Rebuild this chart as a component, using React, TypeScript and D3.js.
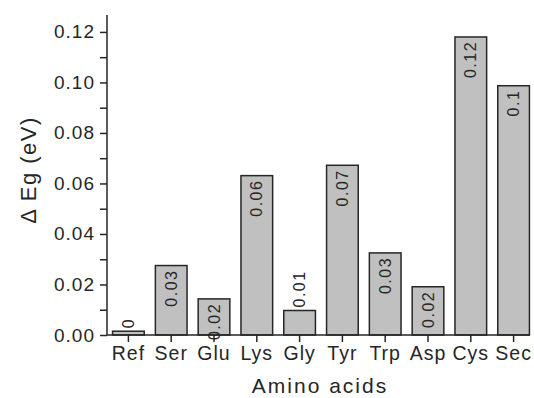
import { useEffect, useRef } from 'react';
import * as d3 from 'd3';

const aminoAcids = ['Ref', 'Ser', 'Glu', 'Lys', 'Gly', 'Tyr', 'Trp', 'Asp', 'Cys', 'Sec'];
const deltaEg = [0.0015, 0.0275, 0.0143, 0.0631, 0.0097, 0.0672, 0.0325, 0.0191, 0.118, 0.0987];
const barLabels = ['0', '0.03', '0.02', '0.06', '0.01', '0.07', '0.03', '0.02', '0.12', '0.1'];
const yTicks = [0, 0.02, 0.04, 0.06, 0.08, 0.1, 0.12];

export default function App() {
    const svgRef = useRef<SVGSVGElement>(null);

    useEffect(() => {
        const svg = d3.select(svgRef.current);
        svg.selectAll('*').remove();

        const W = 534;
        const H = 398;
        const left = 107;
        const right = 535;
        const top = 15;
        const bottom = 335;
        const font = '"Liberation Sans", Arial, sans-serif';
        const ink = '#262626';

        svg.attr('width', W).attr('height', H);

        const x = d3.scaleBand().domain(aminoAcids).range([left, right]).padding(0);
        const barW = x.bandwidth() * 0.74;
        const y = d3.scaleLinear().domain([0, 0.1267]).range([bottom, top]);

        // bars
        const bars = svg.append('g');
        aminoAcids.forEach((name, i) => {
            const cx = (x(name) as number) + x.bandwidth() / 2;
            const yt = y(deltaEg[i]);
            bars.append('rect')
                .attr('x', cx - barW / 2)
                .attr('y', yt)
                .attr('width', barW)
                .attr('height', bottom - yt)
                .attr('fill', '#c0c0c0')
                .attr('stroke', ink)
                .attr('stroke-width', 1.5);

            // labels sit inside tall bars, above short ones
            const inside = bottom - yt > 30;
            bars.append('text')
                .attr('transform', `translate(${cx},${inside ? yt + 4 : yt - 3}) rotate(-90)`)
                .attr('text-anchor', inside ? 'end' : 'start')
                .attr('dominant-baseline', 'central')
                .style('font-family', font)
                .style('font-size', '16px')
                .style('letter-spacing', '1.5px')
                .attr('fill', ink)
                .text(barLabels[i]);
        });

        // y axis
        const yAxis = svg.append('g').attr('transform', `translate(${left},0)`);
        yAxis.call(
            d3.axisLeft(y)
                .tickValues(d3.range(0, 0.1265, 0.01))
                .tickSize(7)
                .tickFormat(() => '')
        );
        yAxis.select('.domain').attr('d', `M0,${top}V${bottom}`);
        yAxis.selectAll('line').attr('stroke', ink).attr('stroke-width', 1.5);
        yAxis.select('.domain').attr('stroke', ink).attr('stroke-width', 1.5);

        yTicks.forEach((t) => {
            svg.append('text')
                .attr('x', 95)
                .attr('y', y(t))
                .attr('text-anchor', 'end')
                .attr('dominant-baseline', 'central')
                .style('font-family', font)
                .style('font-size', '19px')
                .style('letter-spacing', '1px')
                .attr('fill', ink)
                .text(t.toFixed(2));
        });

        // x axis
        const xAxis = svg.append('g').attr('transform', `translate(0,${bottom})`);
        xAxis.call(d3.axisBottom(x).tickSize(7).tickSizeOuter(0));
        xAxis.select('.domain').attr('d', `M${left},0H${right - 5}`);
        xAxis.selectAll('line').attr('stroke', ink).attr('stroke-width', 1.5);
        xAxis.select('.domain').attr('stroke', ink).attr('stroke-width', 1.5);
        xAxis.selectAll('text')
            .attr('y', 11)
            .attr('dy', '0.71em')
            .style('font-family', font)
            .style('font-size', '19.5px')
            .style('letter-spacing', '1px')
            .attr('fill', ink);

        // axis titles
        svg.append('text')
            .attr('x', 320)
            .attr('y', 393)
            .attr('text-anchor', 'middle')
            .style('font-family', font)
            .style('font-size', '21px')
            .style('letter-spacing', '2px')
            .attr('fill', ink)
            .text('Amino acids');

        svg.append('text')
            .attr('transform', `translate(28,170) rotate(-90)`)
            .attr('text-anchor', 'middle')
            .attr('dominant-baseline', 'central')
            .style('font-family', font)
            .style('font-size', '22px')
            .style('letter-spacing', '1.5px')
            .attr('fill', ink)
            .text('\u0394 Eg (eV)');
    }, []);

    return (
        <div style={{ position: 'absolute', left: 0, top: 0 }}>
            <svg ref={svgRef}></svg>
        </div>
    );
}
